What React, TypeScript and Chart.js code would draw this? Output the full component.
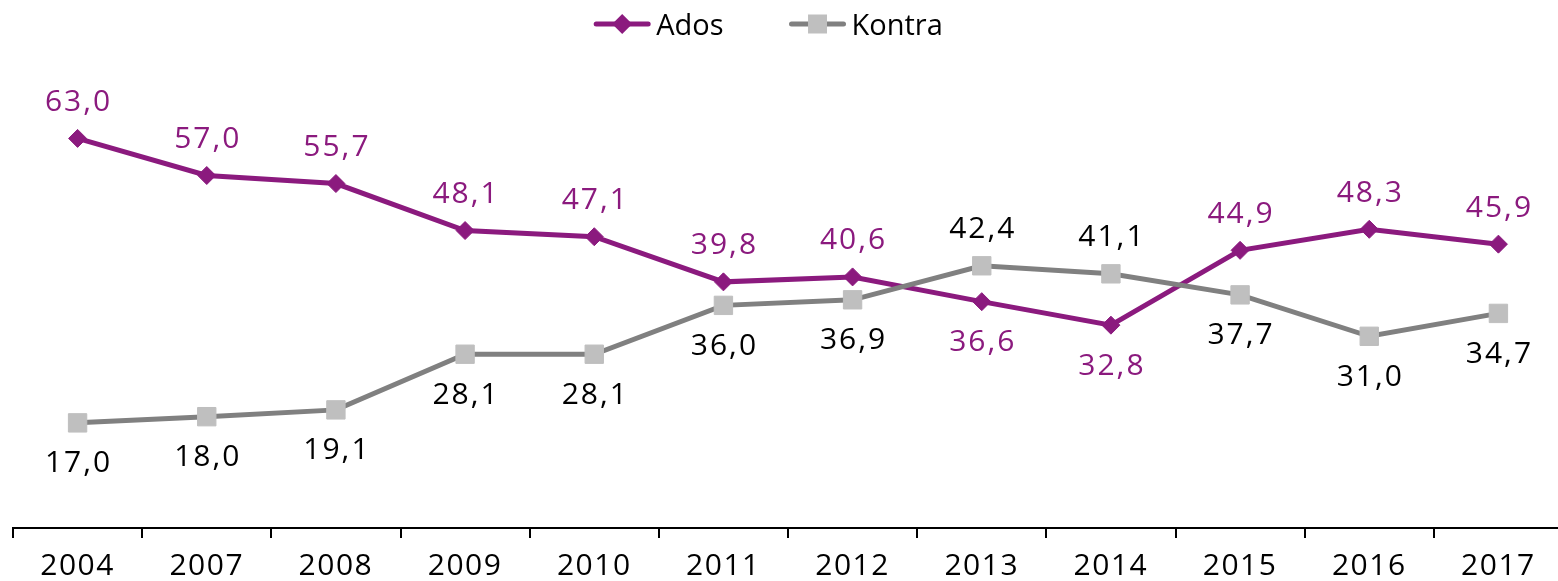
import { useEffect, useRef } from "react";
import { Chart, registerables } from "chart.js";

Chart.register(...registerables);

const years = ["2004", "2007", "2008", "2009", "2010", "2011", "2012", "2013", "2014", "2015", "2016", "2017"];
const adosValues = [63.0, 57.0, 55.7, 48.1, 47.1, 39.8, 40.6, 36.6, 32.8, 44.9, 48.3, 45.9];
const kontraValues = [17.0, 18.0, 19.1, 28.1, 28.1, 36.0, 36.9, 42.4, 41.1, 37.7, 31.0, 34.7];
const seriesNames = ["Ados", "Kontra"];

const PURPLE = "#8B1A7E";
const GRAY_LINE = "#808080";
const GRAY_MARK = "#BFBFBF";
const FONT = "'Open Sans', 'Noto Sans', sans-serif";

const fmt = (v: number) => v.toFixed(1).replace(".", ",");

const spacing = {
  id: "spacing",
  beforeDraw(chart: any) {
    chart.ctx.letterSpacing = "1.5px";
  },
  afterDraw(chart: any) {
    chart.ctx.letterSpacing = "0px";
  },
};

const valueLabels = {
  id: "valueLabels",
  afterDatasetsDraw(chart: any) {
    const ctx = chart.ctx;
    const sets = chart.data.datasets;
    ctx.save();
    ctx.letterSpacing = "2px";
    ctx.font = `30px ${FONT}`;
    ctx.textAlign = "center";
    ctx.textBaseline = "alphabetic";
    sets.forEach((ds: any, di: number) => {
      const meta = chart.getDatasetMeta(di);
      const other = sets[1 - di].data;
      meta.data.forEach((pt: any, i: number) => {
        const v = ds.data[i];
        const above = v >= other[i];
        const cy = above ? pt.y - 38 : pt.y + 39;
        ctx.fillStyle = ds.labelColor;
        ctx.fillText(fmt(v), pt.x + 1, cy + 10.5);
      });
    });
    ctx.restore();
  },
};

const lineLegend = {
  id: "lineLegend",
  afterDraw(chart: any) {
    const ctx = chart.ctx;
    ctx.save();
    ctx.letterSpacing = "0px";
    ctx.font = `29px ${FONT}`;
    const symW = 58;
    const gapText = 5;
    const gapItem = 65;
    const cy = 24;
    const items = chart.data.datasets.map((ds: any) => ({ ds, w: ctx.measureText(ds.label).width }));
    const total =
      items.reduce((s: number, it: any) => s + symW + gapText + it.w, 0) + gapItem * (items.length - 1);
    let x = 768 - total / 2;
    items.forEach(({ ds, w }: any) => {
      ctx.strokeStyle = ds.borderColor;
      ctx.lineWidth = 5;
      ctx.lineCap = "round";
      ctx.beginPath();
      ctx.moveTo(x + 3, cy);
      ctx.lineTo(x + symW - 3, cy);
      ctx.stroke();
      const mx = x + symW / 2;
      ctx.fillStyle = ds.pointBackgroundColor;
      ctx.beginPath();
      if (ds.pointStyle === "rectRot") {
        const r = 10;
        ctx.moveTo(mx - r, cy);
        ctx.lineTo(mx, cy - r);
        ctx.lineTo(mx + r, cy);
        ctx.lineTo(mx, cy + r);
        ctx.closePath();
      } else {
        ctx.rect(mx - 9.5, cy - 9.5, 19, 19);
      }
      ctx.fill();
      ctx.fillStyle = "#000";
      ctx.textAlign = "left";
      ctx.textBaseline = "alphabetic";
      ctx.fillText(ds.label, x + symW + gapText, cy + 11);
      x += symW + gapText + w + gapItem;
    });
    ctx.restore();
  },
};

export default function App() {
  const ref = useRef<HTMLCanvasElement | null>(null);

  useEffect(() => {
    if (!ref.current) return;
    const chart = new Chart(ref.current, {
      type: "line",
      data: {
        labels: years,
        datasets: [
          {
            label: seriesNames[0],
            data: adosValues,
            borderColor: PURPLE,
            backgroundColor: PURPLE,
            pointBackgroundColor: PURPLE,
            pointBorderColor: PURPLE,
            pointBorderWidth: 1,
            pointStyle: "rectRot",
            pointRadius: 9,
            borderWidth: 5,
            tension: 0,
            order: 1,
            labelColor: PURPLE,
          } as any,
          {
            label: seriesNames[1],
            data: kontraValues,
            borderColor: GRAY_LINE,
            backgroundColor: GRAY_MARK,
            pointBackgroundColor: GRAY_MARK,
            pointBorderColor: GRAY_MARK,
            pointBorderWidth: 1,
            pointStyle: "rect",
            pointRadius: 13,
            borderWidth: 5,
            tension: 0,
            order: 0,
            labelColor: "#000",
          } as any,
        ],
      },
      options: {
        responsive: false,
        animation: false,
        devicePixelRatio: 1,
        layout: { autoPadding: false, padding: { left: 13, right: 0, top: 58, bottom: 0 } },
        plugins: {
          legend: { display: false },
          tooltip: { enabled: false },
        },
        scales: {
          x: {
            offset: true,
            grid: {
              offset: true,
              drawOnChartArea: false,
              drawTicks: true,
              tickLength: 10,
              color: "#000",
              lineWidth: 2,
            },
            border: { display: true, color: "#000", width: 2 },
            ticks: {
              color: "#000",
              font: { family: FONT, size: 30 },
              padding: 10,
              maxRotation: 0,
              autoSkip: false,
            },
          },
          y: { display: false, min: 0, max: 76 },
        },
      },
      plugins: [spacing, valueLabels, lineLegend],
    });
    return () => chart.destroy();
  }, []);

  return (
    <div
      style={{
        position: "absolute",
        left: 0,
        top: 0,
        width: 1558,
        height: 581,
        overflow: "hidden",
        background: "#fff",
      }}
    >
      <canvas ref={ref} width={1563} height={594} style={{ display: "block" }} />
    </div>
  );
}
